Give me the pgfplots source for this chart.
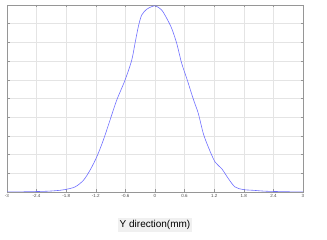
\documentclass[border=0pt]{standalone}
\usepackage{pgfplots}
\pgfplotsset{compat=1.18}
\usepackage{fontspec}
\setmainfont{Liberation Sans}
\definecolor{curve}{RGB}{110,110,255}
\definecolor{gridc}{RGB}{228,228,228}
\definecolor{framec}{RGB}{150,150,150}
\begin{document}
\begin{tikzpicture}
\begin{axis}[
  scale only axis,
  width=296pt, height=187pt,
  xmin=-3, xmax=3, ymin=0, ymax=1,
  xtick={-3,-2.4,-1.8,-1.2,-0.6,0,0.6,1.2,1.8,2.4,3},
  xticklabels={-3,-2.4,-1.8,-1.2,-0.6,0,0.6,1.2,1.8,2.4,3},
  ytick={0,0.1,...,1}, yticklabels={},
  grid=major,
  major grid style={gridc, line width=0.4pt},
  axis line style={framec, line width=0.6pt},
  tick style={framec, line width=0.4pt},
  major tick length=2.5pt,
  tick align=inside,
  ticklabel style={font=\fontsize{4.5}{5}\selectfont, text=black!70},
  xticklabel style={yshift=1pt},
  xlabel={Y direction(mm)},
  xlabel style={font=\fontsize{10}{12}\selectfont, fill=black!6, inner sep=2pt, yshift=-17pt},
]
\addplot[curve, line width=0.6pt, smooth, tension=0.5] coordinates {
(-3,0) (-2.67,0.001) (-2.2,0.004) (-1.926,0.009) (-1.824,0.013) (-1.622,0.027)
(-1.453,0.062) (-1.318,0.116) (-1.182,0.187) (-1.048,0.277) (-0.912,0.384)
(-0.776,0.491) (-0.608,0.598) (-0.472,0.705) (-0.405,0.795) (-0.338,0.884)
(-0.270,0.946) (-0.169,0.977) (-0.067,0.991) (0.014,0.995)
(0.136,0.973) (0.237,0.929) (0.338,0.875) (0.440,0.795) (0.541,0.688)
(0.655,0.598) (0.776,0.497) (0.878,0.420) (0.979,0.313) (1.080,0.241)
(1.216,0.161) (1.352,0.125) (1.486,0.072) (1.622,0.027) (1.790,0.013)
(1.993,0.009) (2.264,0.004) (2.74,0.001) (3,0)
};
\end{axis}
\path[use as bounding box] ([xshift=-7pt,yshift=-48pt]current axis.south west) rectangle ([xshift=24pt,yshift=5pt]current axis.north east);
\end{tikzpicture}
\end{document}
